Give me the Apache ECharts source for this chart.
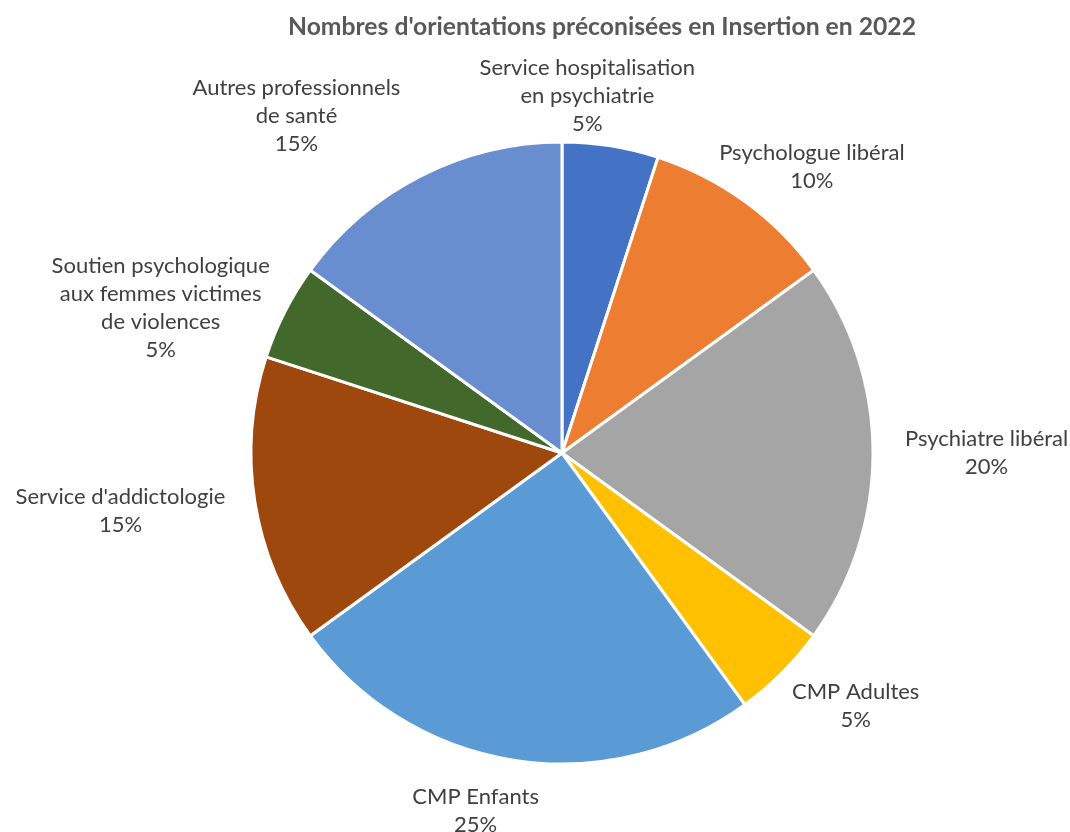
<!DOCTYPE html>
<html><head><meta charset="utf-8">
<script src="https://cdn.jsdelivr.net/npm/echarts@6/dist/echarts.min.js"></script>
<style>html,body{margin:0;padding:0;background:#fff}#c{width:1070px;height:832px}</style>
</head><body><div id="c"></div>
<script>
const titleText = "Nombres d'orientations préconisées en Insertion en 2022";
const categories = [
  "Service hospitalisation\nen psychiatrie",
  "Psychologue libéral",
  "Psychiatre libéral",
  "CMP Adultes",
  "CMP Enfants",
  "Service d'addictologie",
  "Soutien psychologique\naux femmes victimes\nde violences",
  "Autres professionnels\nde santé"
];
const values = [5, 10, 20, 5, 25, 15, 5, 15];
const colors = ["#4472C4", "#ED7D31", "#A5A5A5", "#FFC000", "#5B9BD5", "#9E480E", "#43682B", "#698ED0"];

// label placement tweaks (pixels), layout only
const labelNudge = [[-43, 9], [2, 3], [14, 0], [16, 0], [-25, 5], [-13, 2], [-11, 30], [-69, -7]];

const CX = 562, CY = 453, R = 311, GAP = 18;
const total = values.reduce((a, b) => a + b, 0);
const mids = [];
let acc = 0;
values.forEach(v => { mids.push((acc + v / 2) / total * 2 * Math.PI); acc += v; });

const chart = echarts.init(document.getElementById('c'), null, {renderer: 'canvas'});
chart.setOption({
  animation: false,
  title: {
    text: titleText,
    left: 597, top: 10, textAlign: 'center',
    textStyle: {fontFamily: 'Lato', fontWeight: 'bold', fontSize: 24.7, color: '#595959'}
  },
  series: [{
    type: 'pie',
    center: [CX, CY],
    radius: R,
    startAngle: 90,
    clockwise: true,
    bleedMargin: 0,
    data: categories.map((c, i) => ({name: c, value: values[i], itemStyle: {color: colors[i]}})),
    itemStyle: {borderColor: '#fff', borderWidth: 3},
    label: {
      show: true, position: 'outside', overflow: 'none',
      formatter: p => p.name + '\n' + Math.round(p.percent) + '%',
      fontFamily: 'Lato', fontSize: 22, lineHeight: 28, color: '#404040', align: 'center'
    },
    labelLine: {show: false},
    labelLayout: function (p) {
      const i = p.dataIndex;
      const a = mids[i];
      const ux = Math.sin(a), uy = -Math.cos(a);
      const w = p.labelRect.width, h = p.labelRect.height;
      return {
        x: CX + (R + GAP) * ux + ux * w / 2 + labelNudge[i][0],
        y: CY + (R + GAP) * uy + uy * h / 2 + labelNudge[i][1],
        align: 'center', verticalAlign: 'middle'
      };
    }
  }]
});
</script></body></html>
